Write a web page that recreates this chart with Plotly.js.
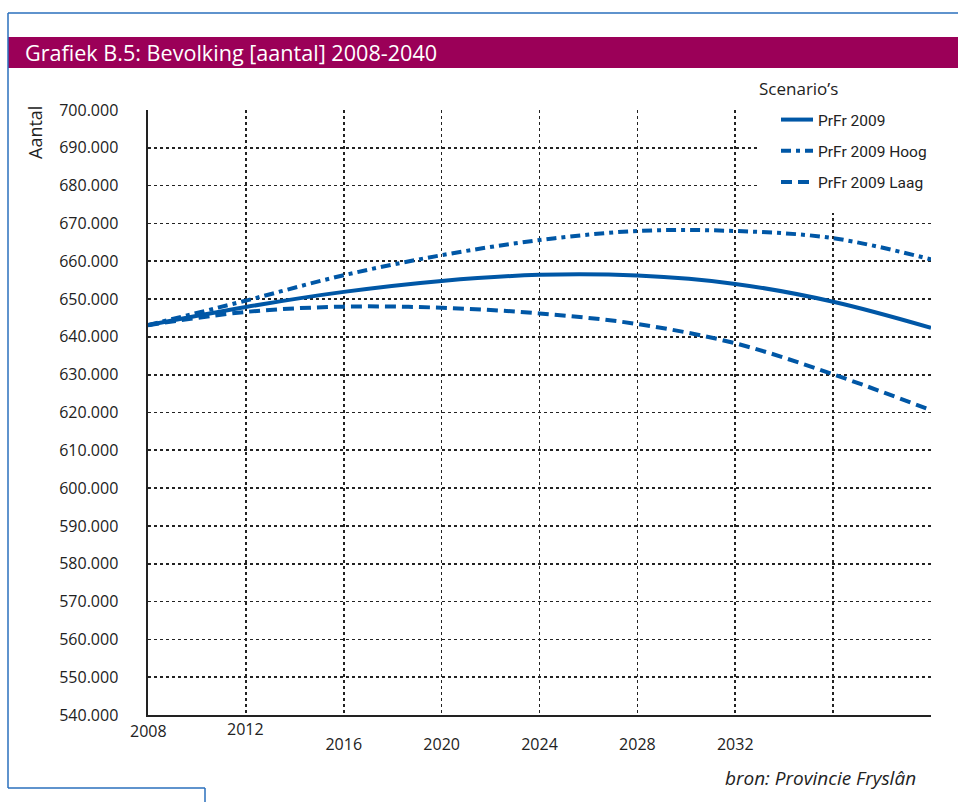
<!DOCTYPE html>
<html>
<head>
<meta charset="utf-8">
<script src="https://cdn.plot.ly/plotly-3.0.1.min.js"></script>
<style>html,body{margin:0;padding:0;background:#fff;}#chart{width:958px;height:802px;}</style>
</head>
<body>
<div id="chart"></div>
<script>
// ---- data ----
const years = [2008, 2012, 2016, 2020, 2024, 2028, 2032, 2036, 2040];
const tickLabels = ['2008', '2012', '2016', '2020', '2024', '2028', '2032', '', ''];
const prfr2009 = [643100, 647900, 651900, 654800, 656400, 656200, 654000, 649300, 642400];
const prfr2009Hoog = [643100, 649600, 656300, 661600, 665600, 668000, 668000, 666100, 660500];
const prfr2009Laag = [643100, 646600, 648000, 647700, 646200, 643400, 638300, 630100, 620600];
const seriesNames = ['PrFr 2009', 'PrFr 2009 Hoog', 'PrFr 2009 Laag'];
const yTicks = [540000, 550000, 560000, 570000, 580000, 590000, 600000, 610000, 620000, 630000, 640000, 650000, 660000, 670000, 680000, 690000, 700000];

// ---- geometry helpers (pixel -> paper) ----
const W = 958, H = 802;
const L = 148, R = 931, T = 110, B = 715;
const px = x => (x - L) / (R - L);
const py = y => (B - y) / (B - T);

const BLUE = '#0057a6';
const FONT = '"Open Sans", "Noto Sans", sans-serif';
const NARROW = 'Roboto, sans-serif';

const dashes = ['solid', '10px,5px,4px,5px', '11px,6px'];
const seriesData = [prfr2009, prfr2009Hoog, prfr2009Laag];

const traces = seriesData.map((ys, i) => ({
  type: 'scatter', mode: 'lines',
  x: years, y: ys, name: seriesNames[i],
  legendgroup: 'g' + i,
  line: {color: BLUE, width: 4, dash: dashes[i], shape: 'spline', smoothing: 1},
  hoverinfo: 'skip'
}));

const frame = {type: 'line', xref: 'paper', yref: 'paper', layer: 'above', line: {color: '#2a6fbd', width: 1.5}};
const shapes = [
  // white box behind legend, hiding grid
  {type: 'rect', xref: 'paper', yref: 'paper', layer: 'above', x0: px(757), x1: px(958), y0: py(68), y1: py(213), fillcolor: '#ffffff', line: {width: 0}},
  // title bar
  {type: 'rect', xref: 'paper', yref: 'paper', layer: 'above', x0: px(8), x1: px(958), y0: py(68), y1: py(37), fillcolor: '#9b0058', line: {width: 0}},
  Object.assign({}, frame, {x0: px(8), x1: px(958), y0: py(13), y1: py(13)}),
  Object.assign({}, frame, {x0: px(8), x1: px(8), y0: py(13), y1: py(788)}),
  Object.assign({}, frame, {x0: px(8), x1: px(205), y0: py(788), y1: py(788)}),
  Object.assign({}, frame, {x0: px(205), x1: px(205), y0: py(788), y1: py(802)})
];

const annotations = [
  {xref: 'paper', yref: 'paper', x: px(35), y: py(133), text: 'Aantal', textangle: -90, showarrow: false,
   xanchor: 'center', yanchor: 'middle', font: {family: FONT, size: 18, color: '#222'}},
  {xref: 'paper', yref: 'paper', x: px(757), y: py(88), text: 'Scenario’s', showarrow: false,
   xanchor: 'left', yanchor: 'middle', font: {family: FONT, size: 17, color: '#222'}},
  {xref: 'paper', yref: 'paper', x: px(918), y: py(778), text: '<i>bron: Provincie Fryslân</i>', showarrow: false,
   xanchor: 'right', yanchor: 'middle', font: {family: FONT, size: 19, color: '#222'}}
];
// first two x labels sit higher than the rest
[0, 1].forEach(i => annotations.push({
  xref: 'x', yref: 'paper', x: years[i], y: 0, yshift: i === 0 ? -16 : -14, text: tickLabels[i],
  showarrow: false, xanchor: 'center', yanchor: 'middle', font: {family: FONT, size: 16, color: '#222'}
}));

const layout = {
  width: W, height: H,
  margin: {l: L, r: W - R, t: T, b: H - B, pad: 0},
  paper_bgcolor: '#ffffff', plot_bgcolor: '#ffffff',
  separators: ',.',
  title: {text: 'Grafiek B.5: Bevolking [aantal] 2008-2040', xref: 'container', yref: 'container',
    x: 25 / W, xanchor: 'left', y: 1 - 53 / H, yanchor: 'middle',
    font: {family: FONT, size: 21.6, color: '#ffffff'}},
  xaxis: {
    range: [2008, 2040], tickmode: 'array', tickvals: years,
    ticktext: tickLabels.map((t, i) => i < 2 ? '' : t),
    showgrid: true, gridcolor: '#222', gridwidth: 1.7, griddash: '3px,3px',
    showline: true, linecolor: '#222', linewidth: 2, zeroline: false,
    ticks: '', ticklabelstandoff: 14,
    tickfont: {family: FONT, size: 16, color: '#222'}, fixedrange: true
  },
  yaxis: {
    range: [540000, 700000], tickmode: 'array', tickvals: yTicks, tickformat: ',d',
    showgrid: true, gridcolor: '#222', gridwidth: 1.7, griddash: '3px,3px',
    showline: true, linecolor: '#222', linewidth: 2.5, zeroline: false,
    ticks: '', ticklabelstandoff: 24,
    tickfont: {family: FONT, size: 16, color: '#222'}, fixedrange: true
  },
  showlegend: true,
  legend: {
    x: px(776), xanchor: 'left', y: py(103), yanchor: 'top',
    bgcolor: 'rgba(0,0,0,0)', borderwidth: 0, tracegroupgap: 8,
    font: {family: NARROW, size: 15.5, color: '#222'}, itemwidth: 32
  },
  shapes: shapes,
  annotations: annotations
};

Plotly.newPlot('chart', traces, layout, {displayModeBar: false, staticPlot: true});
</script>
</body>
</html>
